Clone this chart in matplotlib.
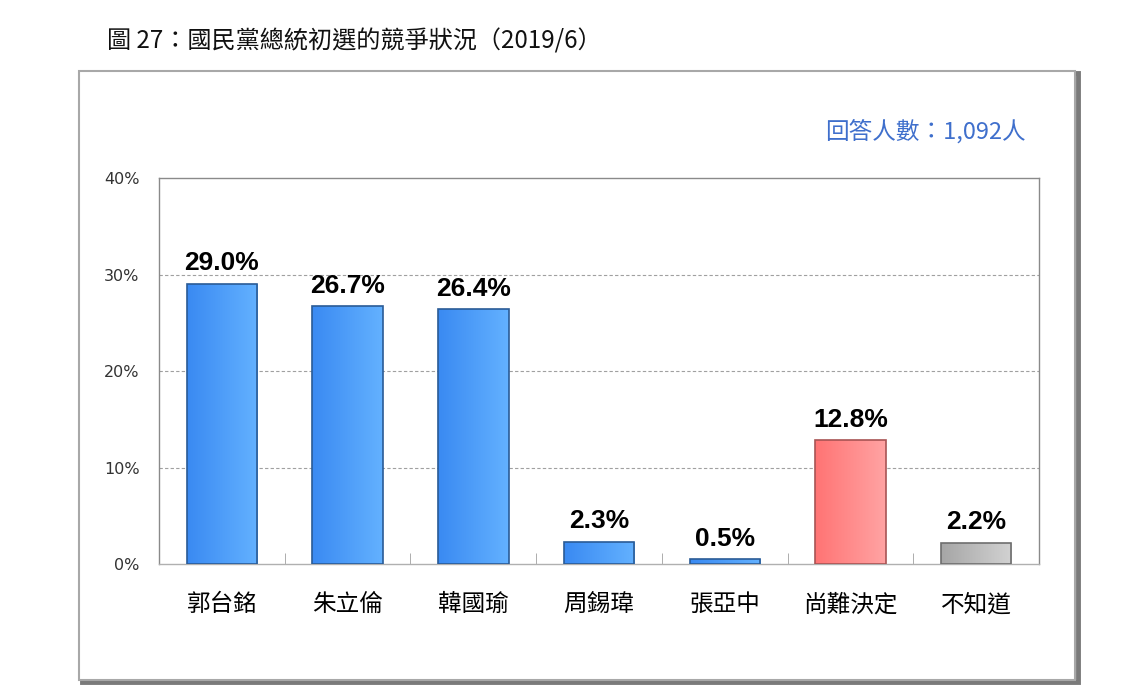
import matplotlib
matplotlib.use("Agg")
import matplotlib.pyplot as plt
import numpy as np
from matplotlib.patches import Rectangle
from matplotlib.colors import LinearSegmentedColormap

plt.rcParams['font.family'] = ['Noto Sans CJK TC', 'DejaVu Sans']

# data
candidates = ['郭台銘', '朱立倫', '韓國瑜', '周錫瑋', '張亞中', '尚難決定', '不知道']
shares = [29.0, 26.7, 26.4, 2.3, 0.5, 12.8, 2.2]
kinds = ['name', 'name', 'name', 'name', 'name', 'undecided', 'unknown']
y_ticks = [0, 10, 20, 30, 40]

title = '圖 27：國民黨總統初選的競爭狀況（2019/6）'
count_note = '回答人數：1,092人'

# left -> right shading of each bar kind
shade = {'name': ('#3a8af2', '#63b1ff'),
         'undecided': ('#ff7474', '#ffa3a3'),
         'unknown': ('#a6a6a6', '#d2d2d2')}
edge = {'name': '#2a5b96', 'undecided': '#a85454', 'unknown': '#6e6e6e'}

fig = plt.figure(figsize=(11.41, 6.97), dpi=100)

# outer frame with a slight bevel
fig.patches.append(Rectangle((0.0715, 0.021), 0.873, 0.874, transform=fig.transFigure,
                             facecolor='none', edgecolor='#7a7a7a', lw=3.5, zorder=0))
fig.patches.append(Rectangle((0.0692, 0.0244), 0.873, 0.8737, transform=fig.transFigure,
                             facecolor='white', edgecolor='#a8a8a8', lw=1.5, zorder=1))

fig.text(0.094, 0.94, title, fontsize=17.4, ha='left', va='center', color='#111111')
fig.text(0.899, 0.811, count_note, fontsize=17, ha='right', va='center', color='#3f6fcc')

ax = fig.add_axes([0.1394, 0.1908, 0.7713, 0.5538])
ax.set_zorder(2)

x = list(range(len(candidates)))
bars = ax.bar(x, shares, width=0.56, color='none',
              edgecolor=[edge[k] for k in kinds], linewidth=1.2, zorder=4)

grad = np.linspace(0, 1, 64).reshape(1, -1)
for b, k in zip(bars, kinds):
    cmap = LinearSegmentedColormap.from_list(k, shade[k])
    x0, y0 = b.get_x(), b.get_y()
    im = ax.imshow(grad, cmap=cmap, aspect='auto', zorder=3,
                   extent=(x0, x0 + b.get_width(), y0, y0 + b.get_height()))
    im.set_clip_path(b)

for xi, v in zip(x, shares):
    ax.text(xi, v + 0.9, f'{v:.1f}%', ha='center', va='bottom', fontsize=19,
            fontweight='bold', family=['Liberation Sans', 'DejaVu Sans'], zorder=5)

ax.set_xlim(-0.5, len(candidates) - 0.5)
ax.set_ylim(0, 40)
ax.set_yticks(y_ticks)
ax.set_yticklabels([f'{t}%' for t in y_ticks], family=['DejaVu Sans'], fontsize=11.5,
                   color='#333333')
ax.tick_params(axis='y', length=0, pad=14)

ax.set_xticks(x)
ax.set_xticklabels(candidates, fontsize=17)
ax.tick_params(axis='x', length=0, pad=21)
ax.set_xticks([i + 0.5 for i in x[:-1]], minor=True)
ax.tick_params(axis='x', which='minor', direction='in', length=8, color='#a0a0a0')

for t in y_ticks[1:-1]:
    ax.axhline(t, color='#a0a0a0', lw=0.8, ls=(0, (3, 2)), zorder=1)

for s in ax.spines.values():
    s.set_color('#8a8a8a')
    s.set_linewidth(1.0)
ax.spines['bottom'].set_color('#b0b0b0')

fig.savefig('out.png', dpi=100)
